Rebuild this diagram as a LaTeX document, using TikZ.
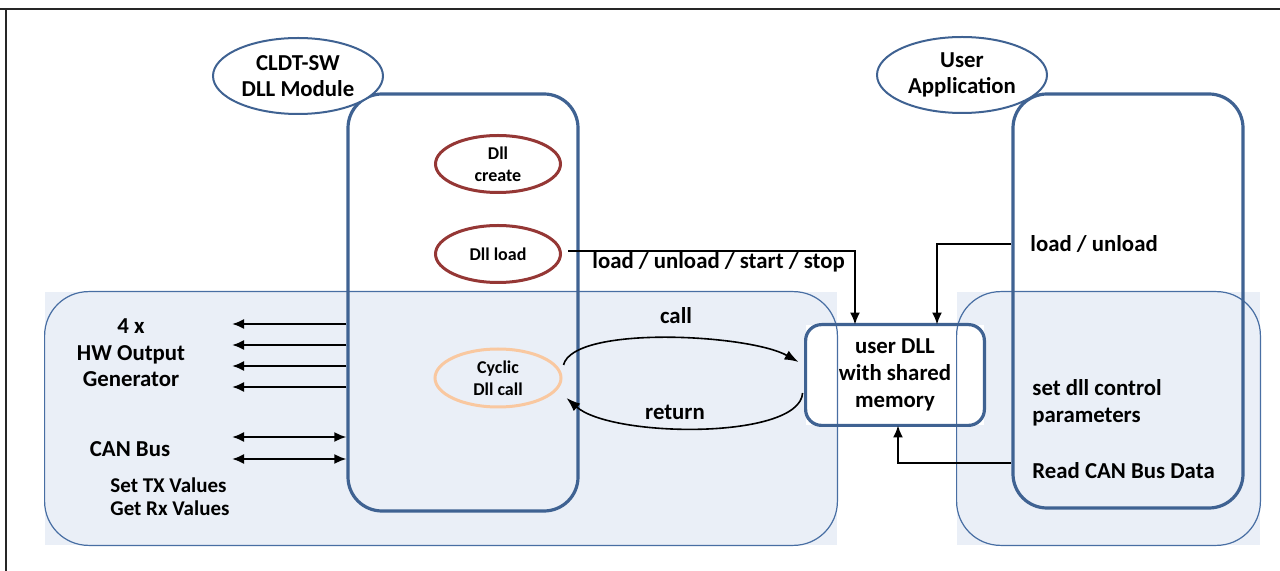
\documentclass[tikz,border=0pt]{standalone}
\usepackage{fontspec}
\setmainfont{Carlito}
\usepackage{tikz}
\usetikzlibrary{shapes.geometric, arrows.meta, positioning, calc}
\definecolor{myblue}{RGB}{63,98,146}
\definecolor{mypanel}{RGB}{234,239,247}
\definecolor{myedge}{RGB}{72,110,163}
\definecolor{myred}{RGB}{149,55,53}
\definecolor{mypeach}{RGB}{249,200,160}
\newcommand{\bigfont}{\bfseries\fontsize{11.4}{13.3}\selectfont}
\newcommand{\midfont}{\bfseries\fontsize{10.5}{11.6}\selectfont}
\newcommand{\smallfont}{\bfseries\fontsize{9}{11}\selectfont}
\tikzset{
  panel/.style={rectangle, fill=mypanel, inner sep=0pt},
  panelline/.style={draw=myedge, line width=0.6pt, rounded corners=22pt},
  swbox/.style={rectangle, draw=myblue, line width=1.6pt,
    rounded corners=17pt, inner sep=0pt},
  dllbox/.style={rectangle, fill=white, align=center, font=\bigfont,
    inner sep=0pt, minimum width=89pt, minimum height=50pt},
  dllline/.style={draw=myblue, line width=1.6pt, rounded corners=8pt},
  tagoval/.style={ellipse, draw=myblue, fill=white, line width=1pt,
    align=center, font=\bigfont, inner sep=0pt,
    minimum width=85pt, minimum height=38pt},
  stateoval/.style={ellipse, draw=myred, fill=white, line width=1.5pt,
    align=center, font=\smallfont, inner sep=0pt,
    minimum width=62.5pt, minimum height=28.5pt},
  lbl/.style={font=\bigfont, inner sep=0pt, align=left},
  arrow/.style={-{Latex[length=6pt,width=5pt]}, line width=1pt, color=black},
  dblarrow/.style={{Latex[length=6pt,width=5pt]}-{Latex[length=6pt,width=5pt]},
    line width=1pt, color=black},
  curvearrow/.style={-{Latex[length=7pt,width=5pt]}, line width=0.8pt, color=black},
  frameline/.style={line width=1pt, color=black!85}
}
\begin{document}
\begin{tikzpicture}[x=0.5pt, y=-0.5pt]
  \useasboundingbox (0,0) rectangle (1280,571);
  \draw[frameline] (0,9) -- (1280,9);
  \draw[frameline] (6,9) -- (6,571);

  % shaded areas
  \node[panel, minimum width=396pt, minimum height=126.5pt] (lpanel) at (441,418.5) {};
  \node[panel, minimum width=151.5pt, minimum height=126.5pt] (rpanel) at (1108.5,418.5) {};
  \node[dllbox] (udll) at (895,375) {user DLL\\with shared\\memory};
  \draw[panelline] (lpanel.south west) rectangle (lpanel.north east);
  \draw[panelline] (rpanel.south west) rectangle (rpanel.north east);
  \draw[dllline] (udll.south west) rectangle (udll.north east);

  % software blocks
  \node[swbox, minimum width=115pt, minimum height=208.5pt] (cldt) at (463,302.5) {};
  \node[swbox, minimum width=115pt, minimum height=207pt] (uapp) at (1128,301) {};
  \node[tagoval] (cldttag) at (298,76) {CLDT-SW\\DLL Module};
  \node[tagoval] (uapptag) at (962,75) {User\\Application};

  \node[stateoval] (dcreate) at (498,164) {Dll\\create};
  \node[stateoval, below=15pt of dcreate] (dload) {Dll load};
  \node[stateoval, draw=mypeach, fill=none, minimum width=63pt,
    minimum height=29pt] (cyc) at (498,378) {Cyclic\\Dll call};

  % load paths
  \draw[arrow] ($(dload.east)+(6,-3)$) -| ($(udll.north)+(-40,0)$);
  \node[lbl, anchor=west] (lustst) at (592,262) {load / unload / start / stop};
  \node[lbl, anchor=west] (lu) at (1030,244) {load / unload};
  \draw[arrow] (uapp.west |- lu) -| ($(udll.north)+(42,0)$);
  \node[lbl, anchor=west] (setpar) at (1032,403) {set dll control\\parameters};
  \node[lbl, anchor=west] (rcan) at (1032,471) {Read CAN Bus Data};
  \draw[arrow] ($(uapp.west |- rcan)+(0,-8)$) -| ($(udll.south)+(3,0)$);

  % cyclic call
  \draw[curvearrow] ($(cyc.east)+(1,-13)$) .. controls +(10,-40) and +(-50,-28)
    .. ($(udll.west)+(-7,-13)$);
  \draw[curvearrow] ($(udll.west)+(-3,18)$) .. controls +(-3,47) and +(45,40)
    .. ($(cyc.east)+(4,20)$);
  \node[lbl] (call) at (676,316) {call};
  \node[lbl] (ret) at (675,412) {return};

  % hardware side
  \foreach \y [count=\i] in {324,345,366,387} {
    \coordinate (hw\i) at (232,\y);
    \draw[arrow] (cldt.west |- hw\i) -- (hw\i);
  }
  \foreach \y [count=\i] in {437,459} {
    \coordinate (can\i) at (232,\y);
    \draw[dblarrow] (can\i) -- (cldt.west |- can\i);
  }
  \node[lbl, align=center] (hwgen) at (131,353) {4 x\\HW Output\\Generator};
  \node[lbl] (canbus) at (130,449) {CAN Bus};
  \node[lbl, anchor=west, font=\midfont] (txrx) at (110,497) {Set TX Values\\Get Rx Values};
\end{tikzpicture}
\end{document}
